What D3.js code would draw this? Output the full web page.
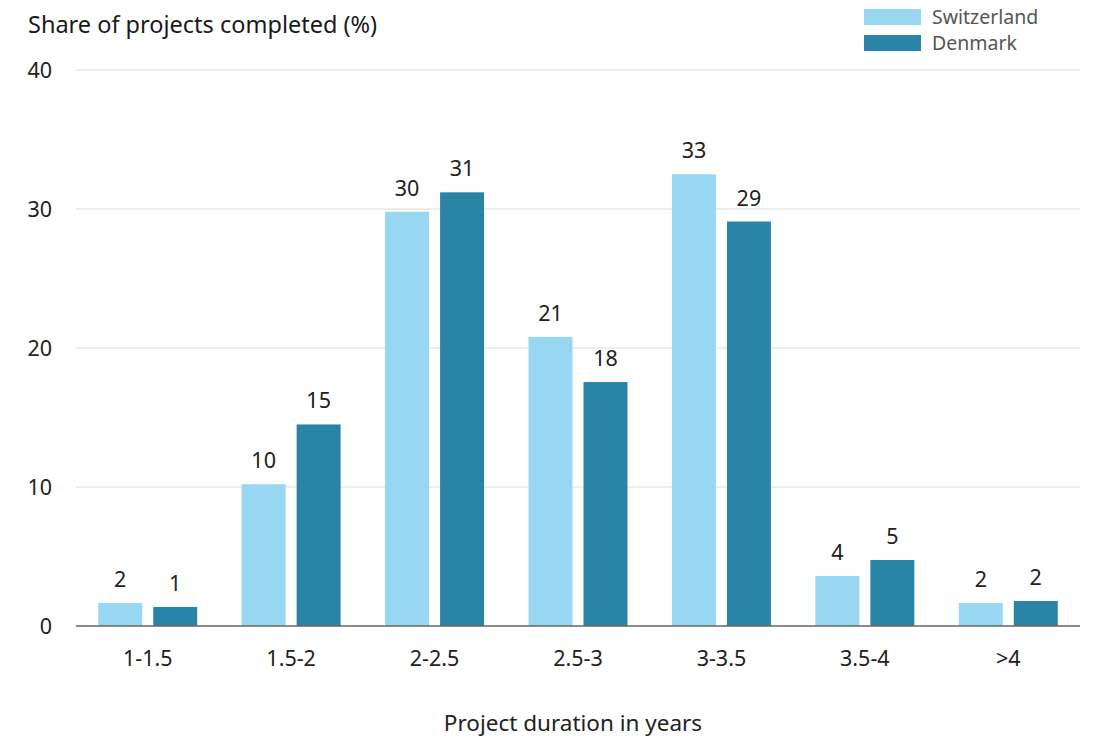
<!DOCTYPE html>
<html>
<head>
<meta charset="utf-8">
<script src="https://cdn.jsdelivr.net/npm/d3@7"></script>
<style>
  html, body { margin: 0; padding: 0; background: #fff; }
  svg { display: block; font-family: "Noto Sans", "Open Sans", sans-serif; }
</style>
</head>
<body>
<svg id="chart" width="1094" height="738"></svg>
<script>
const categories = ["1-1.5", "1.5-2", "2-2.5", "2.5-3", "3-3.5", "3.5-4", ">4"];
const seriesNames = ["Switzerland", "Denmark"];
const switzerland = [1.65, 10.2, 29.8, 20.8, 32.5, 3.6, 1.65];
const denmark = [1.37, 14.5, 31.2, 17.55, 29.1, 4.75, 1.8];
const switzerlandLabels = ["2", "10", "30", "21", "33", "4", "2"];
const denmarkLabels = ["1", "15", "31", "18", "29", "5", "2"];
const yTicks = [0, 10, 20, 30, 40];
const colors = ["#98d7f1", "#2a84a6"];

const svg = d3.select("#chart");
const margin = { left: 76, right: 14, top: 70, bottom: 112 };
const W = 1094, H = 738;

const x = d3.scaleBand().domain(categories).range([margin.left, W - margin.right]).paddingInner(0.31).paddingOuter(0.155);
const xs = d3.scaleBand().domain(seriesNames).range([0, x.bandwidth()]).paddingInner(0.2);
const y = d3.scaleLinear().domain([0, 40]).range([H - margin.bottom, margin.top]);

// gridlines
svg.append("g").selectAll("line").data(yTicks.filter(d => d > 0)).join("line")
  .attr("x1", margin.left).attr("x2", W - margin.right)
  .attr("y1", d => y(d)).attr("y2", d => y(d))
  .attr("stroke", "#dcdcdc").attr("stroke-width", 1);

// y tick labels
svg.append("g").selectAll("text").data(yTicks).join("text")
  .attr("x", 52).attr("y", d => y(d)).attr("dy", "0.35em")
  .attr("text-anchor", "end").attr("font-size", 21.5).attr("fill", "#222")
  .text(d => d);

const data = seriesNames.map((s, i) => ({
  name: s,
  color: colors[i],
  values: i === 0 ? switzerland : denmark,
  labels: i === 0 ? switzerlandLabels : denmarkLabels
}));

const groups = svg.append("g").selectAll("g").data(data).join("g")
  .attr("fill", d => d.color);

groups.selectAll("rect").data(d => d.values.map((v, j) => ({ v, c: categories[j], s: d.name })))
  .join("rect")
  .attr("x", d => x(d.c) + xs(d.s))
  .attr("width", xs.bandwidth())
  .attr("y", d => y(d.v))
  .attr("height", d => y(0) - y(d.v));

const labelG = svg.append("g");
data.forEach(d => {
  labelG.selectAll(null).data(d.values.map((v, j) => ({ v, c: categories[j], s: d.name, t: d.labels[j] })))
    .join("text")
    .attr("x", e => x(e.c) + xs(e.s) + xs.bandwidth() / 2)
    .attr("y", e => y(e.v) - 16)
    .attr("text-anchor", "middle").attr("font-size", 21.5).attr("fill", "#222")
    .text(e => e.t);
});

// baseline
svg.append("line")
  .attr("x1", margin.left).attr("x2", W - margin.right)
  .attr("y1", y(0)).attr("y2", y(0))
  .attr("stroke", "#666").attr("stroke-width", 1.5);

// x axis labels
svg.append("g").selectAll("text").data(categories).join("text")
  .attr("x", d => x(d) + x.bandwidth() / 2).attr("y", y(0) + 40)
  .attr("text-anchor", "middle").attr("font-size", 21.5).attr("fill", "#222")
  .text(d => d);

// axis titles
svg.append("text").attr("x", 28).attr("y", 33)
  .attr("font-size", 23.5).attr("fill", "#1a1a1a")
  .text("Share of projects completed (%)");

svg.append("text").attr("x", 573).attr("y", 731)
  .attr("text-anchor", "middle").attr("font-size", 22.5).attr("fill", "#222")
  .text("Project duration in years");

// legend
const leg = svg.append("g").selectAll("g").data(data).join("g")
  .attr("transform", (d, i) => `translate(864, ${9 + i * 26})`);
leg.append("rect").attr("width", 57).attr("height", 16).attr("fill", d => d.color);
leg.append("text").attr("x", 68).attr("y", 8).attr("dy", "0.35em")
  .attr("font-size", 19.5).attr("fill", "#555")
  .text(d => d.name);
</script>
</body>
</html>
